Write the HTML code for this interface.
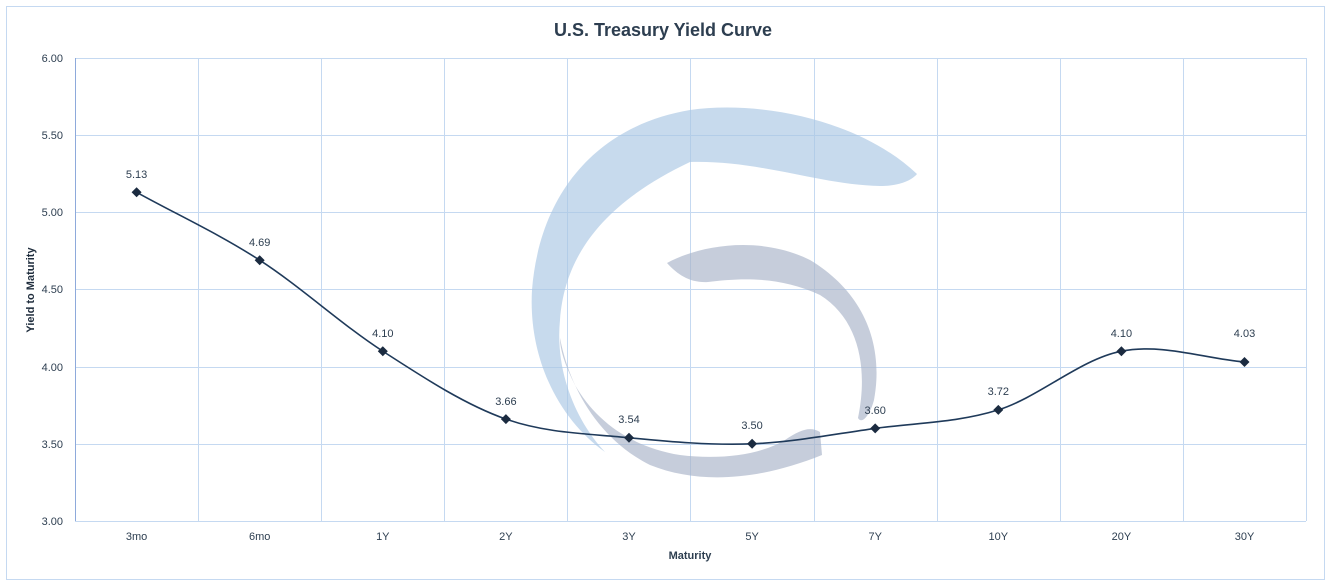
<!DOCTYPE html>
<html><head><meta charset="utf-8"><style>
html,body{margin:0;padding:0;background:#fff}
svg{display:block}
text{font-family:"Liberation Sans",Arial,sans-serif}
</style></head><body>
<svg width="1332" height="587" viewBox="0 0 1332 587" xmlns="http://www.w3.org/2000/svg">
<rect x="0" y="0" width="1332" height="587" fill="#fff"/>
<rect x="6.5" y="6.5" width="1318" height="573" fill="#fff" stroke="#c5d9f1" stroke-width="1"/>
<text x="663" y="36" text-anchor="middle" font-size="18" font-weight="bold" fill="#2d3e50">U.S. Treasury Yield Curve</text>
<g stroke="#c5d9f1" stroke-width="1">
<line x1="75" y1="58.5" x2="1306" y2="58.5"/>
<line x1="75" y1="135.5" x2="1306" y2="135.5"/>
<line x1="75" y1="212.5" x2="1306" y2="212.5"/>
<line x1="75" y1="289.5" x2="1306" y2="289.5"/>
<line x1="75" y1="367.5" x2="1306" y2="367.5"/>
<line x1="75" y1="444.5" x2="1306" y2="444.5"/>
<line x1="75" y1="521.5" x2="1306" y2="521.5"/>
<line x1="198.5" y1="58" x2="198.5" y2="521"/>
<line x1="321.5" y1="58" x2="321.5" y2="521"/>
<line x1="444.5" y1="58" x2="444.5" y2="521"/>
<line x1="567.5" y1="58" x2="567.5" y2="521"/>
<line x1="690.5" y1="58" x2="690.5" y2="521"/>
<line x1="814.5" y1="58" x2="814.5" y2="521"/>
<line x1="937.5" y1="58" x2="937.5" y2="521"/>
<line x1="1060.5" y1="58" x2="1060.5" y2="521"/>
<line x1="1183.5" y1="58" x2="1183.5" y2="521"/>
<line x1="1306.5" y1="58" x2="1306.5" y2="521"/>
</g>
<line x1="75.5" y1="58" x2="75.5" y2="521" stroke="#8eaadb" stroke-width="1"/>
<!-- watermark -->
<path d="M917,174 C860,120 760,100 690,110 C600,125 540,190 532,290 C528,360 560,420 605,452 C575,420 555,370 560,320 C565,250 610,200 690,162 C760,160 820,185 880,186 C900,186 912,180 917,174 Z" fill="#a9c6e4" fill-opacity="0.65"/>
<path d="M667,263 C700,245 760,235 810,260 C860,290 885,340 874,400 C870,415 862,425 858,418 C868,370 860,320 820,295 C780,276 740,278 708,282 C690,283 678,275 667,263 Z" fill="#a8b2c8" fill-opacity="0.65"/>
<path d="M560,338 C570,390 600,440 650,465 C700,485 760,480 822,455 L820,432 C810,426 800,430 785,440 C760,455 720,460 680,455 C630,447 595,420 575,385 C565,365 560,350 560,338 Z" fill="#a8b2c8" fill-opacity="0.65"/>
<g font-size="11" fill="#2d3e50" text-anchor="end">
<text x="63" y="62">6.00</text>
<text x="63" y="139">5.50</text>
<text x="63" y="216">5.00</text>
<text x="63" y="293">4.50</text>
<text x="63" y="371">4.00</text>
<text x="63" y="448">3.50</text>
<text x="63" y="525">3.00</text>
</g>
<g font-size="11" fill="#2d3e50" text-anchor="middle">
<text x="136.6" y="540">3mo</text>
<text x="259.7" y="540">6mo</text>
<text x="382.8" y="540">1Y</text>
<text x="505.9" y="540">2Y</text>
<text x="629" y="540">3Y</text>
<text x="752.1" y="540">5Y</text>
<text x="875.2" y="540">7Y</text>
<text x="998.3" y="540">10Y</text>
<text x="1121.4" y="540">20Y</text>
<text x="1244.5" y="540">30Y</text>
</g>
<text x="690" y="559" text-anchor="middle" font-size="11" font-weight="bold" fill="#2d3e50">Maturity</text>
<text transform="translate(34,290) rotate(-90)" text-anchor="middle" font-size="11" font-weight="bold" fill="#1f2d3d">Yield to Maturity</text>
<path d="M136.6,192.3 C177.6,214.9 218.7,233.7 259.7,260.2 C300.7,286.7 341.8,324.7 382.8,351.2 C423.8,377.7 464.9,404.7 505.9,419.1 C546.9,433.5 588,433.6 629,437.7 C670,441.8 711.1,445.35 752.1,443.8 C793.1,442.25 834.2,434.05 875.2,428.4 C916.2,422.75 957.3,422.8 998.3,409.9 C1039.3,397 1080.4,359.2 1121.4,351.2 C1162.4,343.2 1203.5,358.4 1244.5,362" fill="none" stroke="#1f3a5a" stroke-width="1.6"/>
<g fill="#1b2b40">
<path d="M136.6,187.3 l5,5 -5,5 -5,-5z"/>
<path d="M259.7,255.2 l5,5 -5,5 -5,-5z"/>
<path d="M382.8,346.2 l5,5 -5,5 -5,-5z"/>
<path d="M505.9,414.1 l5,5 -5,5 -5,-5z"/>
<path d="M629,432.7 l5,5 -5,5 -5,-5z"/>
<path d="M752.1,438.8 l5,5 -5,5 -5,-5z"/>
<path d="M875.2,423.4 l5,5 -5,5 -5,-5z"/>
<path d="M998.3,404.9 l5,5 -5,5 -5,-5z"/>
<path d="M1121.4,346.2 l5,5 -5,5 -5,-5z"/>
<path d="M1244.5,357 l5,5 -5,5 -5,-5z"/>
</g>
<g font-size="11" fill="#2d3e50" text-anchor="middle">
<text x="136.6" y="178">5.13</text>
<text x="259.7" y="246">4.69</text>
<text x="382.8" y="337">4.10</text>
<text x="505.9" y="405">3.66</text>
<text x="629" y="423">3.54</text>
<text x="752.1" y="429">3.50</text>
<text x="875.2" y="414">3.60</text>
<text x="998.3" y="395">3.72</text>
<text x="1121.4" y="337">4.10</text>
<text x="1244.5" y="337">4.03</text>
</g>
</svg>
</body></html>
